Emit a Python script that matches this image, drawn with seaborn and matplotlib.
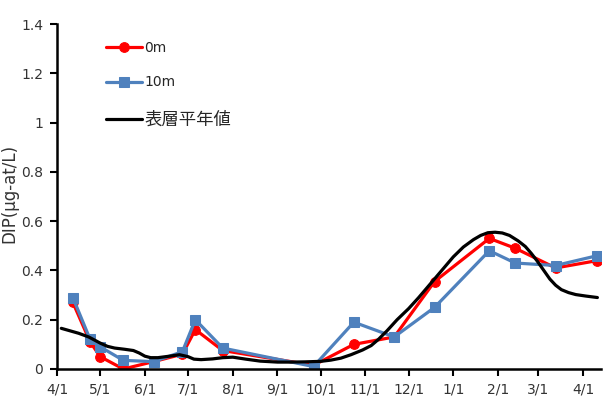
import matplotlib
matplotlib.use("Agg")
import matplotlib.pyplot as plt
import seaborn as sns
import pandas as pd

# Observation dates (Apr 2014 - Apr 2015) and DIP values at 0 m and 10 m
obs_dates = ["2014-04-12", "2014-04-24", "2014-05-01", "2014-05-17", "2014-06-07",
             "2014-06-27", "2014-07-06", "2014-07-25", "2014-09-26", "2014-10-24",
             "2014-11-21", "2014-12-19", "2015-01-26", "2015-02-13", "2015-03-13",
             "2015-04-11"]
dip_0m = [0.27, 0.11, 0.05, 0.0, 0.03, 0.06, 0.16, 0.075, 0.015, 0.10,
          0.13, 0.355, 0.53, 0.49, 0.41, 0.44]
dip_10m = [0.29, 0.12, 0.09, 0.035, 0.03, 0.07, 0.20, 0.085, 0.01, 0.19,
           0.13, 0.25, 0.48, 0.43, 0.42, 0.46]

# Surface-layer normal (climatological mean) curve
norm_dates = ["2014-04-04", "2014-04-10", "2014-04-16", "2014-04-23", "2014-05-01",
              "2014-05-06", "2014-05-11", "2014-05-18", "2014-05-24", "2014-05-28",
              "2014-06-01", "2014-06-05", "2014-06-10", "2014-06-18", "2014-06-25",
              "2014-07-01", "2014-07-05", "2014-07-10", "2014-07-18", "2014-07-25",
              "2014-08-01", "2014-08-10", "2014-08-20", "2014-09-01", "2014-09-10",
              "2014-09-20", "2014-10-01", "2014-10-08", "2014-10-15", "2014-10-22",
              "2014-10-30", "2014-11-05", "2014-11-10", "2014-11-16", "2014-11-23",
              "2014-12-01", "2014-12-08", "2014-12-16", "2014-12-24", "2015-01-01",
              "2015-01-08", "2015-01-15", "2015-01-20", "2015-01-25", "2015-01-30",
              "2015-02-04", "2015-02-09", "2015-02-15", "2015-02-20", "2015-02-24",
              "2015-02-28", "2015-03-03", "2015-03-06", "2015-03-09", "2015-03-13",
              "2015-03-17", "2015-03-22", "2015-03-27", "2015-04-03", "2015-04-11"]
norm_vals = [0.165, 0.155, 0.145, 0.13, 0.105,
             0.092, 0.085, 0.08, 0.075, 0.065,
             0.052, 0.046, 0.046, 0.052, 0.058,
             0.05, 0.04, 0.038, 0.041, 0.046,
             0.048, 0.04, 0.032, 0.028, 0.028,
             0.029, 0.031, 0.036, 0.044, 0.058,
             0.077, 0.095, 0.12, 0.155, 0.2,
             0.245, 0.29, 0.345, 0.4, 0.455,
             0.495, 0.525, 0.542, 0.553, 0.555,
             0.552, 0.542, 0.52, 0.497, 0.47,
             0.44, 0.415, 0.39, 0.365, 0.34,
             0.322, 0.31, 0.302, 0.296, 0.29]

tick_dates = ["2014-04-01", "2014-05-01", "2014-06-01", "2014-07-01", "2014-08-01",
              "2014-09-01", "2014-10-01", "2014-11-01", "2014-12-01", "2015-01-01",
              "2015-02-01", "2015-03-01", "2015-04-01"]
tick_labels = ["4/1", "5/1", "6/1", "7/1", "8/1", "9/1", "10/1", "11/1", "12/1",
               "1/1", "2/1", "3/1", "4/1"]
y_ticks = [0, 0.2, 0.4, 0.6, 0.8, 1.0, 1.2, 1.4]
y_tick_labels = ["0", "0.2", "0.4", "0.6", "0.8", "1", "1.2", "1.4"]

sns.set_theme(style="white")
plt.rcParams["font.family"] = ["DejaVu Sans", "Noto Sans CJK JP"]

obs = pd.DataFrame({"date": pd.to_datetime(obs_dates), "d0": dip_0m, "d10": dip_10m})
norm = pd.DataFrame({"date": pd.to_datetime(norm_dates), "v": norm_vals})

fig = plt.figure(figsize=(6.05, 4.01), dpi=100)
ax = fig.add_axes([57 / 605, 1 - 369 / 401, 544 / 605, 345 / 401])

sns.lineplot(data=obs, x="date", y="d0", ax=ax, color="#FF0000", linewidth=2.3,
             marker="o", markersize=7, markeredgecolor="#FF0000", label="0m")
sns.lineplot(data=obs, x="date", y="d10", ax=ax, color="#4F81BD", linewidth=2.3,
             marker="s", markersize=7.5, markeredgecolor="#4F81BD", label="10m")
sns.lineplot(data=norm, x="date", y="v", ax=ax, color="black", linewidth=2.3,
             label="表層平年値")

ax.set_xlim(pd.Timestamp("2014-04-01"), pd.Timestamp("2015-04-13 12:00"))
ax.set_ylim(0, 1.4)
ax.set_xticks(pd.to_datetime(tick_dates))
ax.set_xticklabels(tick_labels, fontsize=10, color="#333333")
ax.set_yticks(y_ticks)
ax.set_yticklabels(y_tick_labels, fontsize=10, color="#333333")
ax.tick_params(axis="both", direction="out", length=5, width=1.5, color="black",
               left=True, bottom=True, pad=5)

for side in ("top", "right"):
    ax.spines[side].set_visible(False)
for side in ("left", "bottom"):
    ax.spines[side].set_color("black")
    ax.spines[side].set_linewidth(1.8)

ax.set_xlabel("")
ax.set_ylabel("DIP(μg-at/L)", fontsize=12, color="#333333")
ax.yaxis.set_label_coords(-0.071, 0.51)

leg = ax.legend(loc="upper left", bbox_to_anchor=(0.09, 0.952), frameon=False,
                fontsize=10, handlelength=2.6, handletextpad=0.15,
                labelspacing=1.5, borderpad=0, borderaxespad=0)
leg.get_texts()[2].set_fontsize(12.5)

fig.savefig("out.png", dpi=100, facecolor="white")
